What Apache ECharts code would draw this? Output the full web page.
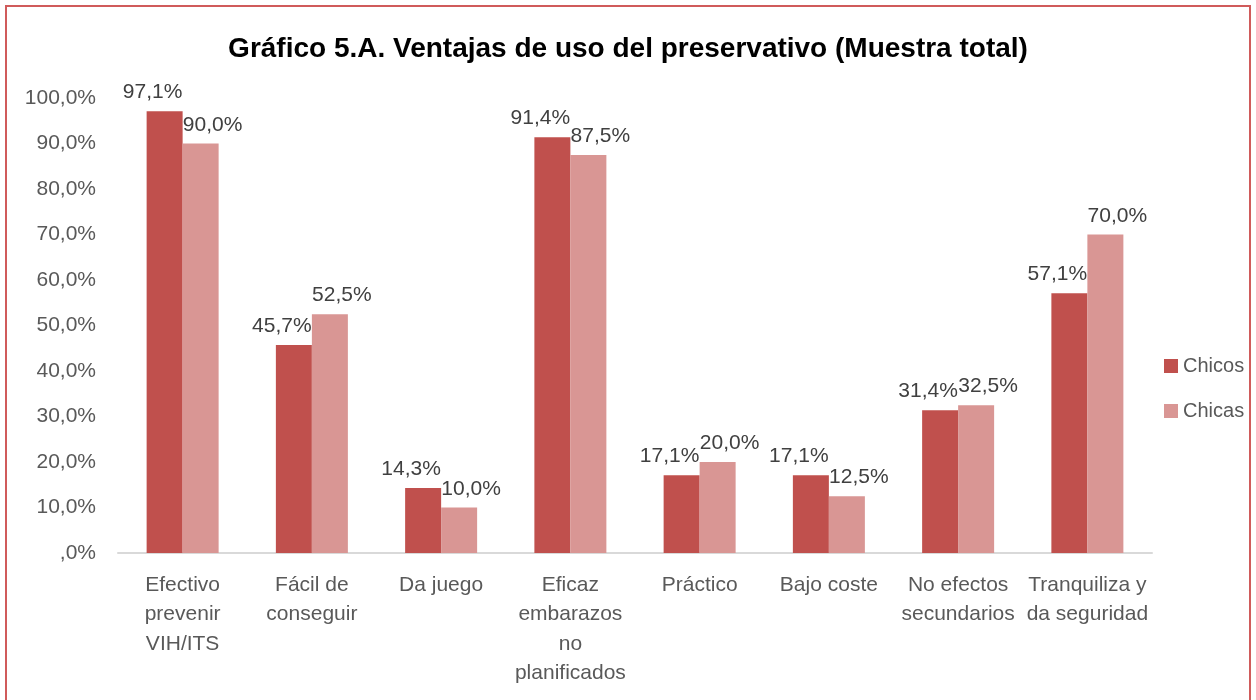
<!DOCTYPE html>
<html>
<head>
	<meta charset="utf-8">
	<title>Gráfico 5.A</title>
	<script type="text/javascript" src="https://cdn.jsdelivr.net/npm/echarts@6/dist/echarts.min.js"></script>
	<style>
		body { margin: 0; overflow: hidden; background: #fff; }
		#frame { position: absolute; left: 5px; top: 5px; width: 1246px; height: 800px; border: 2px solid #D05B5B; box-sizing: border-box; pointer-events: none; }
	</style>
</head>
<body>
	<div style="height: 700px; width: 1256px; position: absolute; left: 0; top: 0" id="chart"></div>
	<div id="frame"></div>

	<script type="text/javascript">
		// datos
		var categorias = ['Efectivo\nprevenir\nVIH/ITS', 'Fácil de\nconseguir', 'Da juego', 'Eficaz\nembarazos\nno\nplanificados',
			'Práctico', 'Bajo coste', 'No efectos\nsecundarios', 'Tranquiliza y\nda seguridad'];
		var chicos = [97.1, 45.7, 14.3, 91.4, 17.1, 17.1, 31.4, 57.1];
		var chicas = [90.0, 52.5, 10.0, 87.5, 20.0, 12.5, 32.5, 70.0];

		function pct(v) {
			var s = Number(v).toFixed(1).replace('.', ',');
			if (s.indexOf('0,') === 0) s = s.substring(1);
			return s + '%';
		}

		var chart = echarts.init(document.getElementById('chart'));
		var fuente = 'Liberation Sans';
		var option = {
			title: {
				text: 'Gráfico 5.A. Ventajas de uso del preservativo (Muestra total)',
				left: 'center',
				top: 30,
				textStyle: { fontFamily: fuente, fontSize: 28, fontWeight: 'bold', color: '#000' }
			},
			legend: {
				orient: 'vertical',
				left: 1159,
				top: 351,
				icon: 'rect',
				itemWidth: 14,
				itemHeight: 14,
				itemGap: 25,
				data: ['Chicos', 'Chicas'],
				textStyle: { fontFamily: fuente, fontSize: 20, color: '#595959' }
			},
			grid: { left: 118, right: 104, top: 98, bottom: 147 },
			xAxis: {
				type: 'category',
				data: categorias,
				axisTick: { show: false },
				axisLine: { lineStyle: { color: '#D9D9D9', width: 2 } },
				axisLabel: { fontFamily: fuente, fontSize: 21, color: '#595959', lineHeight: 29.5, margin: 17, interval: 0 }
			},
			yAxis: {
				type: 'value',
				min: 0,
				max: 100,
				interval: 10,
				splitLine: { show: false },
				axisLine: { show: false },
				axisLabel: { fontFamily: fuente, fontSize: 21, color: '#595959', margin: 22, formatter: pct }
			},
			series: [
				{
					name: 'Chicos',
					type: 'bar',
					data: chicos,
					barWidth: 36,
					barGap: '0%',
					itemStyle: { color: '#C0504D' },
					label: { show: true, position: 'top', distance: 8, offset: [-12, 0], formatter: function (p) { return pct(p.value); },
						fontFamily: fuente, fontSize: 21, color: '#404040' }
				},
				{
					name: 'Chicas',
					type: 'bar',
					data: chicas,
					barWidth: 36,
					itemStyle: { color: '#D99694' },
					label: { show: true, position: 'top', distance: 8, offset: [12, 0], formatter: function (p) { return pct(p.value); },
						fontFamily: fuente, fontSize: 21, color: '#404040' }
				}
			]
		};
		chart.setOption(option);
	</script>
</body>
</html>
